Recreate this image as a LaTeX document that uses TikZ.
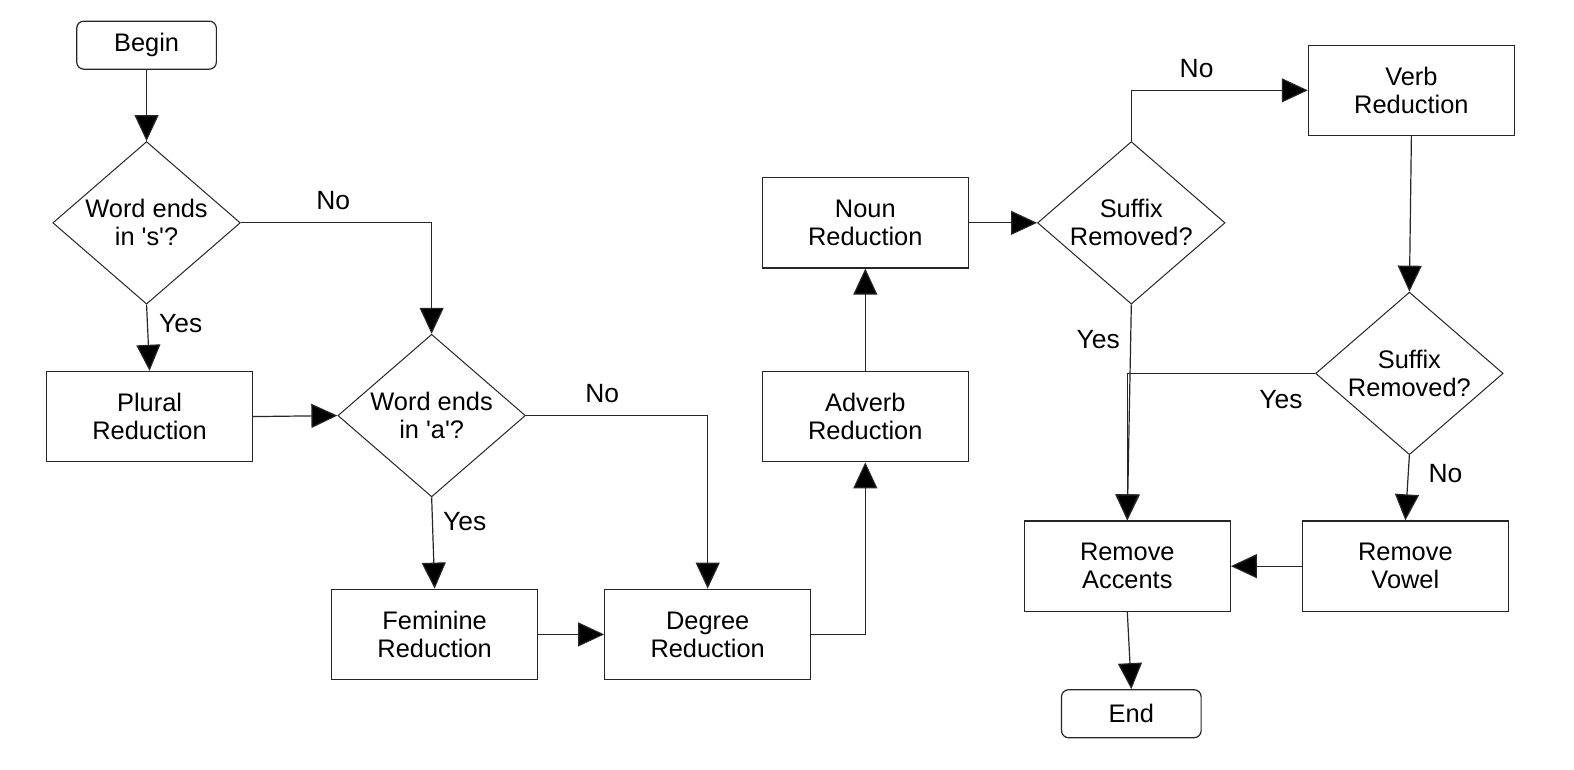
\documentclass[tikz,border=0pt]{standalone}
\usepackage{fontspec}
\setmainfont{Liberation Sans}
\newfontfamily\arialfont{Liberation Sans}
\usetikzlibrary{shapes.geometric,arrows.meta}
\begin{document}
\begin{tikzpicture}[x=0.502pt,y=-0.502pt,
  txt/.style={font=\arialfont\fontsize{12.7}{14}\selectfont},
  box/.style={txt, draw=black!85, line width=0.6pt, minimum width=103pt, minimum height=45.2pt, align=center, inner sep=0pt},
  term/.style={box, rounded corners=3.5pt, minimum width=69.8pt, minimum height=24pt},
  decision/.style={txt, draw=black!85, line width=0.5pt, diamond, aspect=1.15, minimum width=93.8pt, minimum height=81.3pt, inner sep=0pt, align=center},
  lbl/.style={font=\arialfont\fontsize{13.2}{14}\selectfont, inner sep=0pt},
  arr/.style={draw=black!85, line width=0.6pt, -{Triangle[length=13pt,width=12pt,fill=black]}}
]
\fill[white] (0,0) rectangle (1568,767);

\node[term] (begin) at (146,45) {Begin};
\node[decision] (d1) at (146,222) {Word ends\\in 's'?};
\node[box] (plural) at (149,415) {Plural\\Reduction};
\node[decision] (d2) at (430,414) {Word ends\\in 'a'?};
\node[box] (fem) at (433,632) {Feminine\\Reduction};
\node[box] (deg) at (705,632) {Degree\\Reduction};
\node[box] (adv) at (862,415) {Adverb\\Reduction};
\node[box] (noun) at (862,222) {Noun\\Reduction};
\node[decision] (d3) at (1127,222) {Suffix\\Removed?};
\node[box] (verb) at (1406,90) {Verb\\Reduction};
\node[decision] (d4) at (1404,372) {Suffix\\Removed?};
\node[box] (vowel) at (1400,564) {Remove\\Vowel};
\node[box] (acc) at (1123,564) {Remove\\Accents};
\node[term] (end) at (1127,711) {End};

\draw[arr] (begin.south) -- (d1.north);
\draw[arr] (d1.east) -| (d2.north);
\draw[arr] (d1.south) -- (plural.north);
\draw[arr] (plural.east) -- (d2.west);
\draw[arr] (d2.south) -- (fem.north);
\draw[arr] (d2.east) -| (deg.north);
\draw[arr] (fem.east) -- (deg.west);
\draw[arr] (deg.east) -| (adv.south);
\draw[arr] (adv.north) -- (noun.south);
\draw[arr] (noun.east) -- (d3.west);
\draw[arr] (d3.north) |- (verb.west);
\draw[arr] (verb.south) -- (d4.north);
\draw[arr] (d3.south) -- (acc.north);
\draw[arr] (d4.west) -| (acc.north);
\draw[arr] (d4.south) -- (vowel.north);
\draw[arr] (vowel.west) -- (acc.east);
\draw[arr] (acc.south) -- (end.north);

\node[lbl] (l1) at (332,200) {No};
\node[lbl] (l2) at (180,322) {Yes};
\node[lbl] (l3) at (600,392) {No};
\node[lbl] (l4) at (463,520) {Yes};
\node[lbl] (l5) at (1192,68) {No};
\node[lbl] (l6) at (1094,338) {Yes};
\node[lbl] (l7) at (1276,398) {Yes};
\node[lbl] (l8) at (1440,472) {No};
\end{tikzpicture}
\end{document}
